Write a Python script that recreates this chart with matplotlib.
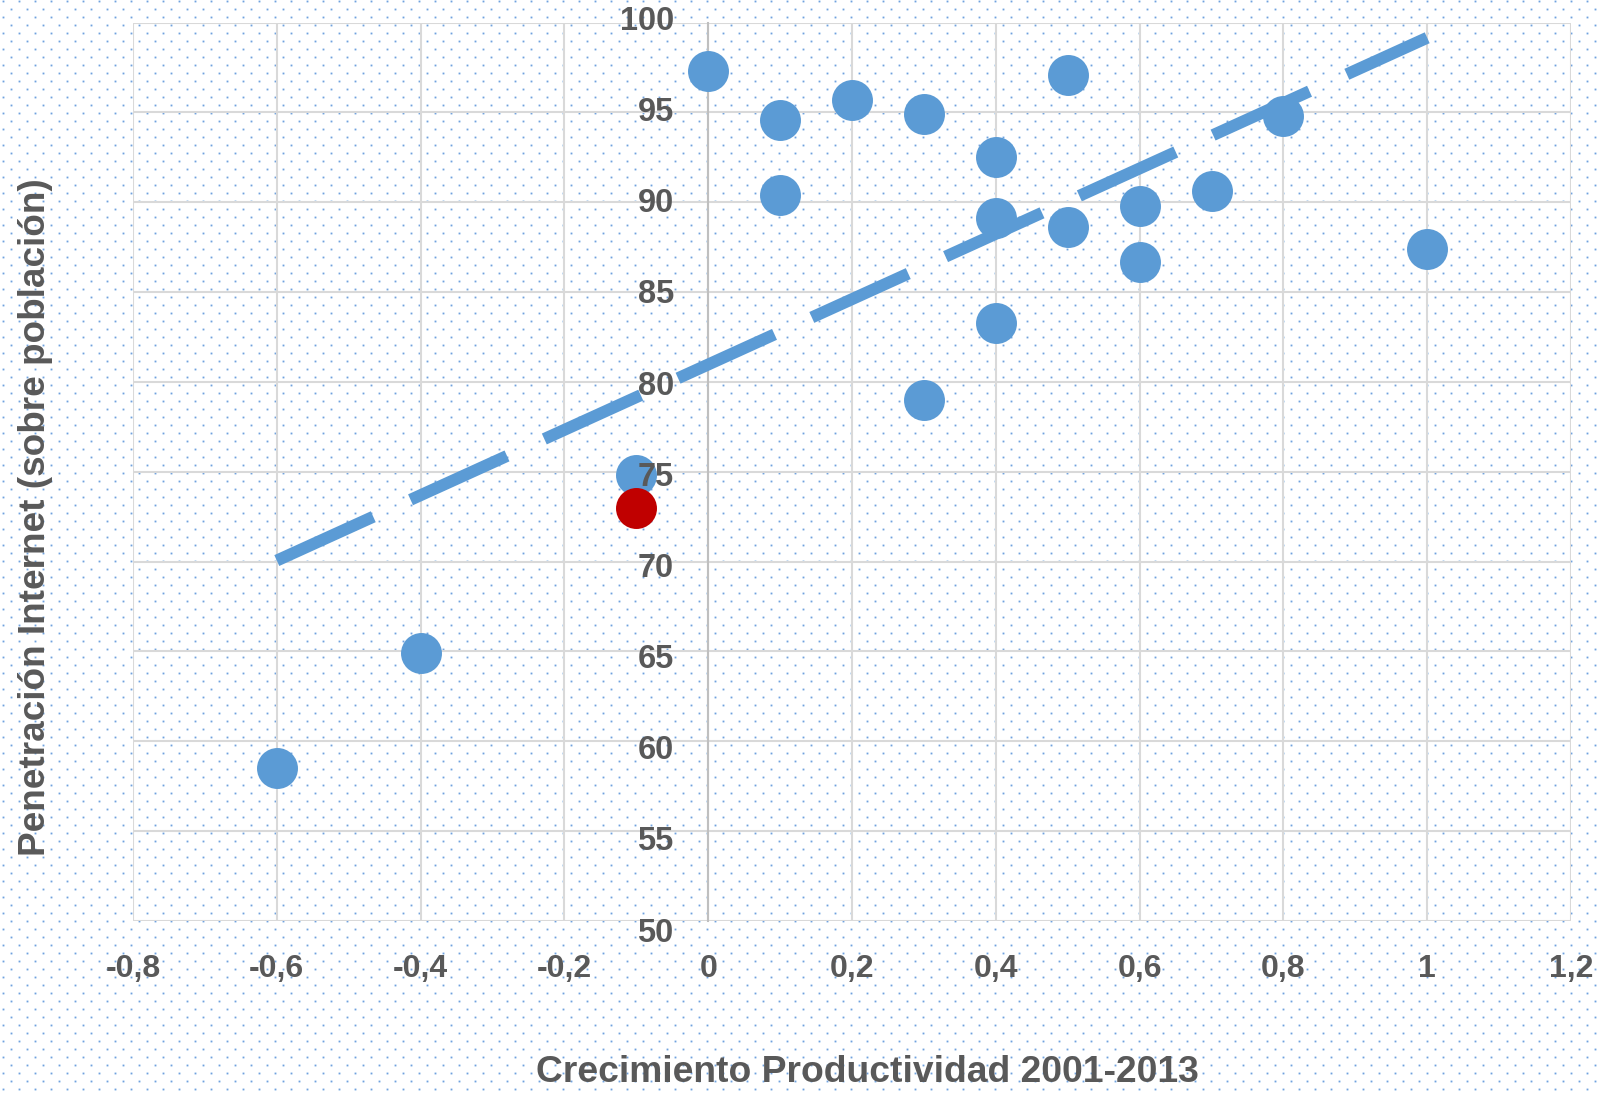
import numpy as np
import matplotlib
matplotlib.use('Agg')
import matplotlib.pyplot as plt
from matplotlib.transforms import offset_copy

# productividad (x) vs penetracion internet (y)
productividad = [0, 0.1, 0.1, 0.2, 0.3, 0.3, 0.4, 0.4, 0.4, 0.5,
                 0.5, 0.6, 0.6, 0.7, 0.8, 1.0, -0.1, -0.4, -0.6]
penetracion = [97.3, 94.6, 90.4, 95.7, 94.9, 79.0, 92.5, 89.1, 83.3, 97.1,
               88.6, 89.8, 86.7, 90.6, 94.8, 87.4, 74.8, 64.9, 58.5]
# punto destacado (Espana)
destacado_x = [-0.1]
destacado_y = [73.0]

xticks = [-0.8, -0.6, -0.4, -0.2, 0, 0.2, 0.4, 0.6, 0.8, 1.0, 1.2]
xtick_labels = ['-0,8', '-0,6', '-0,4', '-0,2', '0', '0,2', '0,4', '0,6', '0,8', '1', '1,2']
yticks = [50, 55, 60, 65, 70, 75, 80, 85, 90, 95, 100]

W, H = 1603, 1096
blue = '#5B9BD5'
gray_text = '#595959'
plt.rcParams['font.family'] = ['Liberation Sans', 'DejaVu Sans']

fig = plt.figure(figsize=(W / 100, H / 100), dpi=100)

# dotted background pattern
bg = np.ones((H, W, 3))
core = np.array([0.45, 0.63, 0.87])
side = np.array([0.76, 0.85, 0.95])
corner = np.array([0.9, 0.94, 0.98])
for k, y in enumerate(range(1, H - 1, 8)):
    x0 = 3 if k % 2 == 0 else 11
    for x in range(x0, W - 1, 16):
        bg[y, x] = core
        for dy, dx in [(-1, 0), (1, 0), (0, -1), (0, 1)]:
            if 0 <= y + dy < H and 0 <= x + dx < W:
                bg[y + dy, x + dx] = side
        for dy, dx in [(-1, -1), (-1, 1), (1, -1), (1, 1)]:
            if 0 <= y + dy < H and 0 <= x + dx < W:
                bg[y + dy, x + dx] = corner
fig.figimage(bg, 0, 0, origin='upper', zorder=-10)

ax = fig.add_axes([133 / W, 1 - 921 / H, (1571 - 133) / W, (921 - 22.5) / H])
ax.set_facecolor('none')
ax.set_xlim(-0.8, 1.2)
ax.set_ylim(50, 100)

ax.set_xticks(xticks)
ax.set_xticklabels(xtick_labels)
ax.set_yticks(yticks)
ax.grid(True, color='#d9d9d9', linewidth=1.5, zorder=0)
ax.set_axisbelow(True)

for s in ['top', 'right', 'bottom']:
    ax.spines[s].set_visible(False)
ax.spines['left'].set_position(('data', 0))
ax.spines['left'].set_color('#bfbfbf')
ax.spines['left'].set_linewidth(1.5)

ax.tick_params(axis='both', length=0, labelcolor=gray_text)
ax.tick_params(axis='x', pad=24, labelsize=23)
ax.tick_params(axis='y', labelleft=False)
for lbl in ax.get_xticklabels():
    lbl.set_fontweight('bold')

# etiquetas del eje y junto a x=0, por encima de los puntos
for v in yticks:
    shift = -0.7 + (100 - v) / 50 * 9.4
    tr = offset_copy(ax.transData, fig=fig, x=-24.8, y=-shift, units='points')
    ax.text(0, v, str(v), transform=tr, ha='right', va='center', fontsize=23.5,
            fontweight='bold', color=gray_text, zorder=6)

# puntos
ax.scatter(productividad, penetracion, s=870, color=blue, linewidths=0, zorder=3)
ax.scatter(destacado_x, destacado_y, s=870, color='#C00000', linewidths=0, zorder=4)

# linea de tendencia (regresion lineal sobre todos los puntos)
all_x = np.array(productividad + destacado_x)
all_y = np.array(penetracion + destacado_y)
m, b = np.polyfit(all_x, all_y, 1)
tx = np.array([all_x.min(), all_x.max()])
trend, = ax.plot(tx, m * tx + b, color=blue, linewidth=8.6, solid_capstyle='butt',
                 dash_capstyle='butt', zorder=5)
trend.set_dashes([8.87, 3.43])

fig.text(867 / W, 1 - 1073 / H, 'Crecimiento Productividad 2001-2013', ha='center', va='center',
         fontsize=26.8, fontweight='bold', color=gray_text)
fig.text(36 / W, 1 - 517 / H, 'Penetración Internet (sobre población)', ha='center', va='center',
         rotation=90, fontsize=26.6, fontweight='bold', color=gray_text)

fig.savefig('out.png', dpi=100)
